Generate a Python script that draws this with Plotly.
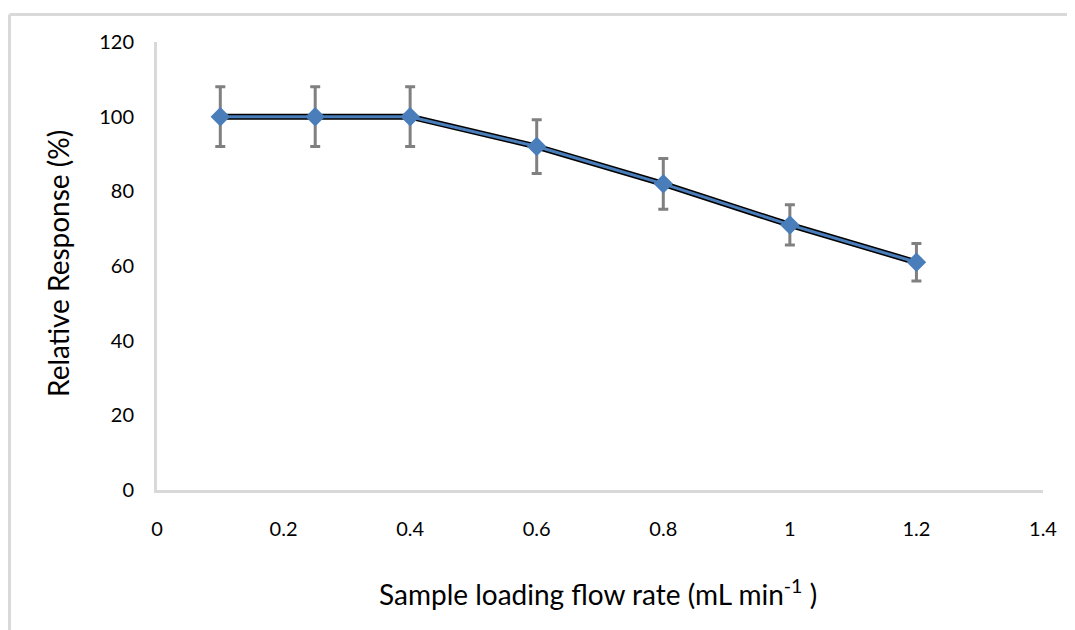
import plotly.graph_objects as go

flow_rate = [0.1, 0.25, 0.4, 0.6, 0.8, 1.0, 1.2]
relative_response = [100, 100, 100, 92, 82, 71, 61]
error = [8, 8, 8, 7.2, 6.8, 5.4, 5]

x_ticks = [0, 0.2, 0.4, 0.6, 0.8, 1, 1.2, 1.4]
x_tick_labels = ["0", "0.2", "0.4", "0.6", "0.8", "1", "1.2", "1.4"]
y_ticks = [0, 20, 40, 60, 80, 100, 120]

FONT = "Lato"
OFF = 8  # page body margin
W, H = 1075 - OFF, 630 - OFF
L, R, T, B = 157 - OFF, 32, 42 - OFF, 140
pw, ph = W - L - R, H - T - B


def px(xabs):
    return (xabs - OFF - L) / pw


def py(yabs):
    return (T + ph - (yabs - OFF)) / ph


fig = go.Figure()
fig.add_trace(go.Scatter(
    x=flow_rate, y=relative_response, mode="markers",
    marker=dict(size=1, color="rgba(0,0,0,0)"),
    error_y=dict(type="data", array=error, visible=True,
                 color="#808080", thickness=3, width=5),
    hoverinfo="skip", showlegend=False))
fig.add_trace(go.Scatter(
    x=flow_rate, y=relative_response, mode="lines",
    line=dict(color="black", width=6), showlegend=False))
fig.add_trace(go.Scatter(
    x=flow_rate, y=relative_response, mode="lines+markers",
    line=dict(color="#4A7EBB", width=3),
    marker=dict(symbol="diamond", size=15, color="#4A7EBB"),
    showlegend=False))

fig.update_layout(
    width=W, height=H,
    margin=dict(l=L, r=R, t=T, b=B, autoexpand=False),
    paper_bgcolor="white", plot_bgcolor="white",
    font=dict(family=FONT, color="black", size=20),
    xaxis=dict(range=[0, 1.4], tickvals=x_ticks, ticktext=x_tick_labels,
               showgrid=False, zeroline=False, showline=True,
               linecolor="#D9D9D9", linewidth=3, ticks="",
               ticklabelstandoff=19, tickfont=dict(size=20)),
    yaxis=dict(range=[0, 120], tickvals=y_ticks,
               showgrid=False, zeroline=False, showline=True,
               linecolor="#D9D9D9", linewidth=3, ticks="",
               ticklabelstandoff=16, tickfont=dict(size=20)),
    shapes=[
        dict(type="line", xref="paper", yref="paper",
             x0=px(9.5), x1=px(1080),
             y0=py(14.5), y1=py(14.5),
             line=dict(color="#D9D9D9", width=3)),
        dict(type="line", xref="paper", yref="paper",
             x0=px(9.5), x1=px(9.5),
             y0=py(14.5), y1=py(640),
             line=dict(color="#D9D9D9", width=3)),
    ],
    annotations=[
        dict(text="Sample loading flow rate (mL min<sup>-1</sup> )",
             xref="paper", yref="paper", x=px(598), y=py(592),
             xanchor="center", yanchor="middle", showarrow=False,
             font=dict(size=28, family=FONT)),
        dict(text="Relative Response (%)",
             xref="paper", yref="paper", x=px(58), y=py(264),
             xanchor="center", yanchor="middle", showarrow=False, textangle=-90,
             font=dict(size=28, family=FONT)),
    ],
)

fig.write_html("out.html")
